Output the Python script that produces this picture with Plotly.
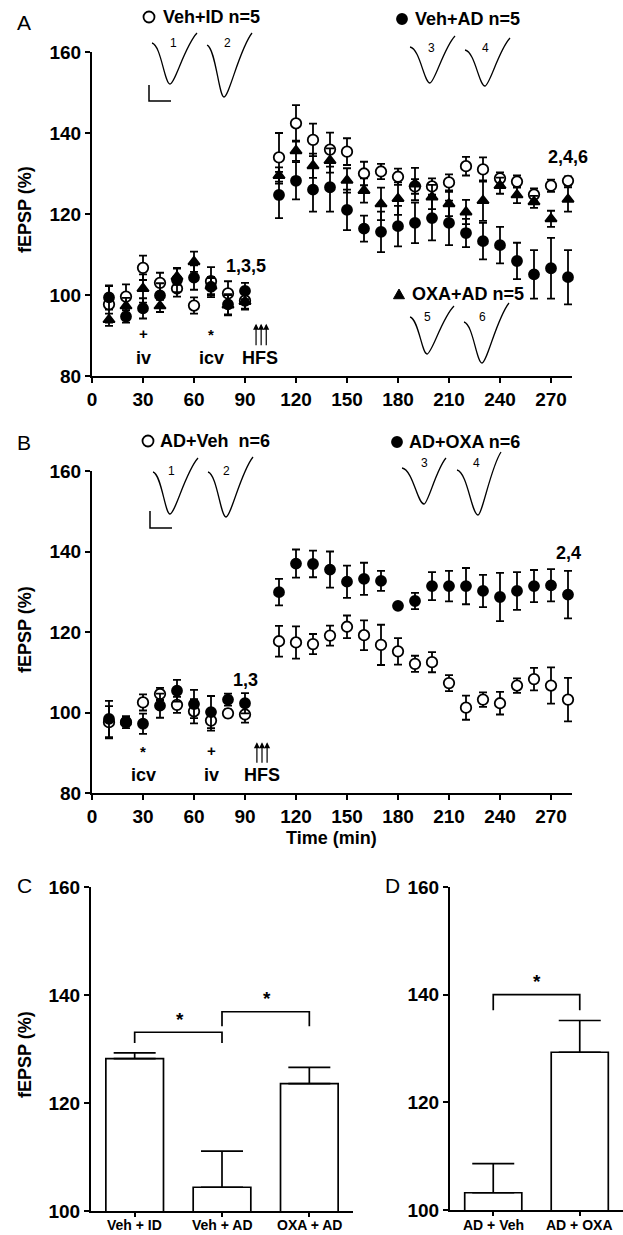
import plotly.graph_objects as go

# ---------------- data ----------------
time_min = [10, 20, 30, 40, 50, 60, 70, 80, 90,
            110, 120, 130, 140, 150, 160, 170, 180, 190, 200,
            210, 220, 230, 240, 250, 260, 270, 280]

# Panel A
A_vehID = [97.7, 99.6, 106.7, 103.0, 101.6, 97.4, 103.4, 100.4, 98.6,
           134.0, 142.4, 138.3, 135.9, 135.4, 130.0, 130.5, 129.2, 126.8, 126.8,
           127.8, 131.8, 131.0, 128.8, 128.0, 124.8, 127.0, 128.2]
A_vehID_err = [4.5, 3, 3, 2.5, 2, 2, 3.5, 3, 2,
               6, 4.5, 4, 4.2, 3.3, 2.9, 1.9, 2, 1.8, 2,
               2, 2.3, 3, 1.5, 1.5, 1.5, 1.5, 1.1]
A_vehAD = [99.4, 94.7, 96.7, 99.9, 103.7, 104.3, 102.0, 97.7, 101.0,
           124.7, 128.2, 126.0, 126.6, 121.0, 116.4, 115.6, 117.0, 117.8, 119.0,
           117.8, 115.3, 113.3, 112.3, 108.4, 105.1, 106.6, 104.4]
A_vehAD_err = [3, 1.5, 2.5, 3, 3, 3, 2.5, 2.5, 2,
               5.7, 4.6, 5.4, 6, 5, 3.2, 5, 5, 5, 5.5,
               5.5, 3.5, 4.5, 4.5, 4.5, 6, 7.5, 6.7]
A_oxaAD = [93.9, 97.3, 101.6, 97.3, 104.5, 108.2, 102.2, 97.5, 98.4,
           129.5, 135.6, 131.9, 133.2, 128.3, 125.8, 122.5, 123.8, 127.4, 124.2,
           122.5, 120.5, 123.3, 127.0, 124.7, 123.0, 118.8, 123.6]
A_oxaAD_err = [1.5, 2, 3.5, 1.5, 2, 2.5, 2, 2.5, 2,
               2, 2.5, 3, 3, 3, 3, 4, 4, 4, 3,
               3, 3, 5, 2, 2, 1.5, 2, 3]

# Panel B
B_adVeh = [97.6, 97.6, 102.5, 104.6, 101.9, 100.3, 98.0, 99.8, 99.5,
           117.7, 117.4, 117.0, 119.1, 121.3, 119.2, 116.8, 115.2, 112.1, 112.5,
           107.3, 101.2, 103.2, 102.3, 106.7, 108.3, 106.7, 103.2]
B_adVeh_err = [4, 1.5, 2, 1.5, 2, 3, 2.5, 1, 2,
               3.8, 4, 2.5, 2.5, 2.8, 3.7, 5, 3.3, 2, 2.5,
               2, 3, 1.8, 2.8, 1.8, 2.8, 4.5, 5.4]
B_adOXA = [98.4, 97.6, 97.2, 101.7, 105.4, 102.1, 100.1, 103.2, 102.3,
           129.9, 137.0, 136.9, 135.5, 132.5, 133.2, 132.7, 126.5, 127.7, 131.4,
           131.4, 131.4, 130.2, 128.7, 130.2, 131.4, 131.6, 129.3]
B_adOXA_err = [4.5, 1, 2.5, 3, 2.7, 3.5, 4, 1.5, 2.5,
               3.3, 3.5, 3.3, 4.5, 4, 4, 2.5, 0.5, 2, 3.5,
               3.8, 4.5, 4, 6, 4.7, 4, 4, 5.9]

# Panels C and D
C_groups = ["Veh + ID", "Veh + AD", "OXA + AD"]
C_mean = [128.2, 104.4, 123.6]
C_sem = [1.1, 6.7, 3.0]
D_groups = ["AD + Veh", "AD + OXA"]
D_mean = [103.2, 129.3]
D_sem = [5.4, 5.9]

time_ticks = [0, 30, 60, 90, 120, 150, 180, 210, 240, 270]
ts_yticks = [80, 100, 120, 140, 160]
bar_yticks = [100, 120, 140, 160]
hfs_A = [96.5, 99.5, 102.5]
hfs_B = [97.0, 100.0, 103.0]

# ---------------- helpers ----------------
W, H = 623, 1235
FONT = "Arial, Liberation Sans, sans-serif"
X_MAX = 282.5                      # a little room so the last error caps are not clipped
X0_PX, PX_PER_MIN = 92, 1.7


def px(x):
    return x / W


def py(y):
    return 1 - y / H


def xdom(a, b):
    return [a / W, b / W]


def ydom(top, bottom):
    return [1 - bottom / H, 1 - top / H]


fig = go.Figure()


def ts_trace(y, err, symbol, fill, xa, ya, name, size=10):
    return go.Scatter(
        x=time_min, y=y, mode="markers", name=name,
        marker=dict(symbol=symbol, size=size, color=fill,
                    line=dict(color="black", width=1.8)),
        error_y=dict(type="data", array=err, color="black",
                     thickness=1.8, width=4),
        xaxis=xa, yaxis=ya, cliponaxis=False, showlegend=False)


fig.add_trace(ts_trace(A_vehID, A_vehID_err, "circle", "white", "x", "y", "Veh+ID", 10.5))
fig.add_trace(ts_trace(A_vehAD, A_vehAD_err, "circle", "black", "x", "y", "Veh+AD"))
fig.add_trace(ts_trace(A_oxaAD, A_oxaAD_err, "triangle-up", "black", "x", "y", "OXA+AD"))
fig.add_trace(ts_trace(B_adVeh, B_adVeh_err, "circle", "white", "x2", "y2", "AD+Veh", 10.5))
fig.add_trace(ts_trace(B_adOXA, B_adOXA_err, "circle", "black", "x2", "y2", "AD+OXA"))


def bar_trace(groups, mean, sem, xa, ya):
    return go.Bar(
        x=list(range(len(groups))), y=mean, width=0.66,
        marker=dict(color="white", line=dict(color="black", width=1.7)),
        error_y=dict(type="data", symmetric=False, array=sem,
                     arrayminus=[0] * len(sem), color="black",
                     thickness=1.7, width=21),
        xaxis=xa, yaxis=ya, showlegend=False)


fig.add_trace(bar_trace(C_groups, C_mean, C_sem, "x3", "y3"))
fig.add_trace(bar_trace(D_groups, D_mean, D_sem, "x4", "y4"))

TICKFONT = dict(family=FONT, size=19, color="black", weight="bold")
axis_style = dict(showline=True, linecolor="black", linewidth=2,
                  ticks="outside", ticklen=5, tickwidth=2, tickcolor="black",
                  showgrid=False, zeroline=False, fixedrange=True,
                  automargin=False, tickfont=TICKFONT)

x_end_px = X0_PX + X_MAX * PX_PER_MIN

fig.update_layout(
    width=W, height=H, autosize=False,
    margin=dict(l=0, r=0, t=0, b=0, pad=0, autoexpand=False),
    paper_bgcolor="white", plot_bgcolor="white", showlegend=False,
    xaxis=dict(axis_style, domain=xdom(X0_PX, x_end_px), range=[0, X_MAX],
               tickvals=time_ticks, anchor="y"),
    yaxis=dict(axis_style, domain=ydom(52, 376), range=[80, 160],
               tickvals=ts_yticks, anchor="x"),
    xaxis2=dict(axis_style, domain=xdom(X0_PX, x_end_px), range=[0, X_MAX],
                tickvals=time_ticks, anchor="y2"),
    yaxis2=dict(axis_style, domain=ydom(471, 793), range=[80, 160],
                tickvals=ts_yticks, anchor="x2"),
    xaxis3=dict(axis_style, domain=xdom(91, 353), range=[-0.5, 2.5],
                tickvals=list(range(len(C_groups))), showticklabels=False,
                anchor="y3", ticklen=4),
    yaxis3=dict(axis_style, domain=ydom(887, 1211), range=[100, 160],
                tickvals=bar_yticks, anchor="x3"),
    xaxis4=dict(axis_style, domain=xdom(450, 623), range=[-0.5, 1.5],
                tickvals=list(range(len(D_groups))), showticklabels=False,
                anchor="y4", ticklen=4),
    yaxis4=dict(axis_style, domain=ydom(887, 1210), range=[100, 160],
                tickvals=bar_yticks, anchor="x4"),
)

annotations = []


def ann(text, x, y, size=17, bold=True, angle=0, xanchor="center"):
    annotations.append(dict(
        text=f"<b>{text}</b>" if bold else text, x=px(x), y=py(y),
        xref="paper", yref="paper", xanchor=xanchor, yanchor="middle",
        showarrow=False, textangle=angle,
        font=dict(family=FONT, size=size, color="black")))


# category labels of the bar panels (as annotations so they stay inside the page)
for xa, groups in (("x3", C_groups), ("x4", D_groups)):
    for i, g in enumerate(groups):
        annotations.append(dict(
            text=f"<b>{g}</b>", x=i, xref=xa, y=py(1225), yref="paper",
            xanchor="center", yanchor="middle", showarrow=False,
            font=dict(family=FONT, size=14, color="black")))

# panel letters
ann("A", 24, 22, size=21, bold=False)
ann("B", 24, 442, size=21, bold=False)
ann("C", 24, 885, size=21, bold=False)
ann("D", 392, 885, size=21, bold=False)

# axis titles
ann("fEPSP (%)", 25, 210, size=18, angle=-90)
ann("fEPSP (%)", 25, 630, size=18, angle=-90)
ann("fEPSP (%)", 25, 1055, size=18, angle=-90)
ann("Time (min)", 331, 838, size=18)

# legend texts
ann("Veh+ID n=5", 161, 17, size=18, xanchor="left")
ann("Veh+AD n=5", 413, 19, size=18, xanchor="left")
ann("OXA+AD n=5", 410, 294, size=18, xanchor="left")
ann("AD+Veh\u00a0 n=6", 158, 441, size=18, xanchor="left")
ann("AD+OXA n=6", 407, 442, size=18, xanchor="left")

# labels panel A
ann("1,3,5", 246, 266, size=18)
ann("2,4,6", 568, 157, size=18)
ann("+", 143, 333, size=15)
ann("iv", 143, 358, size=18)
ann("*", 211, 334, size=15)
ann("icv", 211, 358, size=18)
ann("HFS", 260, 358, size=18)
# labels panel B
ann("1,3", 245, 680, size=18)
ann("2,4", 568, 553, size=18)
ann("*", 143, 751, size=15)
ann("icv", 143, 775, size=18)
ann("+", 211, 750, size=15)
ann("iv", 211, 775, size=18)
ann("HFS", 262, 775, size=18)

# waveform numbers
for t, x, y in [("1", 173, 43), ("2", 227, 43), ("3", 432, 48), ("4", 485, 48),
                ("5", 427, 317), ("6", 482, 317),
                ("1", 171, 471), ("2", 226, 471), ("3", 424, 463), ("4", 476, 463)]:
    ann(t, x, y, size=12, bold=False)

# HFS arrows
for t in hfs_A:
    annotations.append(dict(x=t, y=92.9, xref="x", yref="y", ax=0, ay=23,
                            text="", showarrow=True, arrowhead=2, arrowsize=1,
                            arrowwidth=1.2, arrowcolor="black", standoff=0))
for t in hfs_B:
    annotations.append(dict(x=t, y=92.6, xref="x2", yref="y2", ax=0, ay=22,
                            text="", showarrow=True, arrowhead=2, arrowsize=1,
                            arrowwidth=1.2, arrowcolor="black", standoff=0))

# significance stars
STAR = dict(family=FONT, size=19, color="black")
annotations.append(dict(x=0.52, y=135.4, xref="x3", yref="y3", text="<b>*</b>",
                        showarrow=False, font=STAR))
annotations.append(dict(x=1.51, y=139.3, xref="x3", yref="y3", text="<b>*</b>",
                        showarrow=False, font=STAR))
annotations.append(dict(x=0.51, y=142.4, xref="x4", yref="y4", text="<b>*</b>",
                        showarrow=False, font=STAR))

fig.update_layout(annotations=annotations)

shapes = []


def bracket(x0, x1, ytop, yleg, xa, ya):
    shapes.append(dict(type="path", xref=xa, yref=ya,
                       path=f"M {x0},{yleg} L {x0},{ytop} L {x1},{ytop} L {x1},{yleg}",
                       line=dict(color="black", width=1.7)))


bracket(0, 1, 133.1, 131.1, "x3", "y3")
bracket(1, 2, 136.9, 134.2, "x3", "y3")
bracket(0, 1, 140.0, 137.1, "x4", "y4")


def P(x, y):
    return f"{px(x):.5f},{py(y):.5f}"


def wave(sx, sy, mx, my, ex, ey):
    d1x, d1y = mx - sx, my - sy
    d2x, d2y = ex - mx, my - ey
    path = (f"M {P(sx, sy)} "
            f"C {P(sx + 0.5 * d1x, sy + 0.05 * d1y)} {P(mx - 0.3 * d1x, my)} {P(mx, my)} "
            f"C {P(mx + 0.18 * d2x, my)} {P(ex - 0.45 * d2x, ey + 0.25 * d2y)} {P(ex, ey)}")
    shapes.append(dict(type="path", xref="paper", yref="paper", path=path,
                       line=dict(color="black", width=1.3)))


# panel A insets
wave(152, 43, 170, 84, 197, 33)
wave(207, 45, 224, 97, 252, 33)
wave(410, 47, 430, 83, 455, 36)
wave(465, 50, 485, 86, 510, 38)
wave(410, 317, 427, 354, 454, 306)
wave(464, 322, 482, 363, 509, 303)
# panel B insets
wave(153, 472, 170, 514, 198, 458)
wave(208, 472, 226, 517, 253, 457)
wave(402, 468, 424, 504, 446, 458)
wave(457, 470, 478, 515, 501, 452)

# scale bars
for (x0, y0, y1, x1) in [(149, 85, 101, 171), (150, 511, 528, 172)]:
    shapes.append(dict(type="path", xref="paper", yref="paper",
                       path=f"M {P(x0, y0)} L {P(x0, y1)} L {P(x1, y1)}",
                       line=dict(color="black", width=1.5)))


# legend symbols (drawn as shapes so their size is exact)
def legend_circle(cx, cy, d, filled):
    shapes.append(dict(type="circle", xref="paper", yref="paper",
                       x0=px(cx - d / 2), x1=px(cx + d / 2),
                       y0=py(cy + d / 2), y1=py(cy - d / 2),
                       line=dict(color="black", width=1.8),
                       fillcolor="black" if filled else "white"))


def legend_triangle(cx, cy, s):
    shapes.append(dict(type="path", xref="paper", yref="paper",
                       path=(f"M {P(cx - s / 2, cy + s * 0.43)} L {P(cx + s / 2, cy + s * 0.43)} "
                             f"L {P(cx, cy - s * 0.45)} Z"),
                       line=dict(color="black", width=1), fillcolor="black"))


legend_circle(149, 17, 11, False)
legend_circle(402, 19, 10, True)
legend_triangle(399, 294, 11)
legend_circle(148, 441, 11, False)
legend_circle(397, 442, 10, True)

fig.update_layout(shapes=shapes)

# remove the browser's default 8px body margin so the figure fills the window exactly
fig.write_html("out.html",
               config={"displayModeBar": False},
               post_script="document.body.style.margin='0';"
                           "document.body.style.overflow='hidden';")
